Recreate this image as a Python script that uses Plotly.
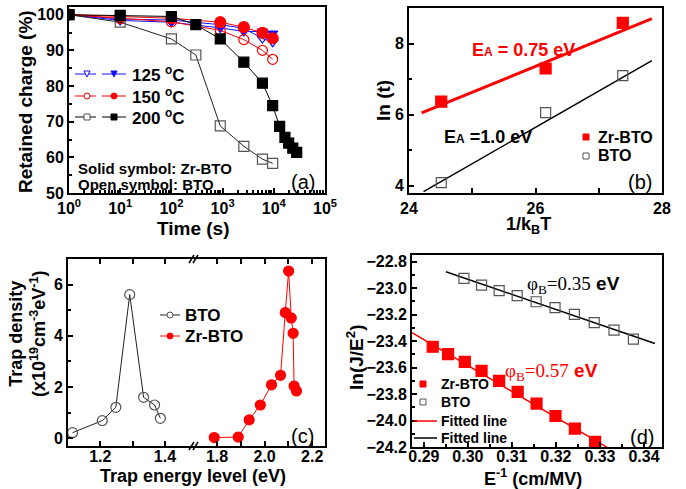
import plotly.graph_objects as go

W, H = 686, 489
def X(px): return px / W
def Y(py): return 1 - py / H

FONT = "Liberation Sans, Arial, sans-serif"
SERIF = "Liberation Serif, Times New Roman, serif"
RED = "#ff0000"
BLUE = "#1010ff"
GRAY = "#555555"

# ---------------- Panel (a): retention ----------------
t_125 = [1, 10, 100, 900, 2600, 6000, 9500]
bto_125 = [100, 98.8, 98.5, 97.2, 96.2, 93.3, 92.3]
zr_125 = [100, 98.4, 97.9, 96.3, 95.3, 95.3, 94.8]
t_150 = [1, 10, 100, 900, 2600, 6000, 9500]
bto_150 = [100, 98.9, 98.0, 95.6, 93.0, 90.0, 87.5]
zr_150 = [100, 99.5, 99.0, 97.9, 96.5, 94.9, 93.4]
t_bto_200 = [1, 10, 100, 300, 900, 2600, 6000, 9500]
bto_200 = [100, 97.9, 93.2, 88.7, 68.8, 63.1, 59.5, 58.3]
t_zr_200 = [1, 10, 100, 300, 900, 2600, 6000, 9500, 13000, 16500, 19500, 23500, 28000]
zr_200 = [100, 99.8, 99.5, 97.2, 93.2, 86.7, 80.8, 74.5, 68.7, 65.6, 64.0, 62.6, 61.4]

# ---------------- Panel (b): Arrhenius ----------------
inv_kT = [24.51, 26.16, 27.38]
ln_t_zr = [6.37, 7.30, 8.58]
ln_t_bto = [4.09, 6.06, 7.10]
fit_zr_x = [24.2, 27.84]
fit_zr_y = [6.05, 8.70]
fit_bto_x = [24.23, 27.84]
fit_bto_y = [3.84, 7.52]

# ---------------- Panel (c): trap density ----------------
e_bto = [1.114, 1.206, 1.248, 1.291, 1.334, 1.368, 1.386]
n_bto = [0.22, 0.69, 1.21, 5.61, 1.60, 1.30, 0.78]
e_zr = [1.788, 1.889, 1.935, 1.982, 2.029, 2.067, 2.087, 2.101, 2.112, 2.120, 2.124, 2.134]
n_zr = [0.03, 0.05, 0.72, 1.30, 2.09, 2.46, 4.91, 6.53, 4.70, 4.10, 2.04, 1.85]

# ---------------- Panel (d): F-N plot ----------------
einv_bto = [0.2991, 0.3031, 0.3071, 0.3112, 0.3155, 0.3198, 0.3242, 0.3287, 0.3332, 0.3376]
lnje_bto = [-22.926, -22.977, -23.019, -23.057, -23.103, -23.148, -23.199, -23.260, -23.317, -23.385]
einv_zr = [0.2920, 0.2955, 0.2993, 0.3031, 0.3071, 0.3113, 0.3156, 0.3199, 0.3243, 0.3289]
lnje_zr = [-23.443, -23.499, -23.557, -23.625, -23.701, -23.784, -23.872, -23.966, -24.061, -24.162]
fitd_bto_x = [0.2950, 0.3425]
fitd_bto_y = [-22.876, -23.418]
fitd_zr_x = [0.2873, 0.3322]
fitd_zr_y = [-23.337, -24.214]

fig = go.Figure()

def sc(x, y, xa, ya, color, symbol, filled, size=10, lw=1, mode="lines+markers", lcolor=None):
    fig.add_trace(go.Scatter(
        x=x, y=y, xaxis=xa, yaxis=ya, mode=mode, showlegend=False,
        line=dict(color=lcolor or color, width=lw),
        marker=dict(symbol=symbol if filled else symbol + "-open", size=size,
                    color=color, line=dict(color=color, width=1.2)),
        cliponaxis=True))

# panel a
sc(t_125, bto_125, "x", "y", BLUE, "triangle-down", False, 9)
sc(t_125, zr_125, "x", "y", BLUE, "triangle-down", True, 9)
sc(t_150, bto_150, "x", "y", RED, "circle", False, 10)
sc(t_150, zr_150, "x", "y", RED, "circle", True, 11)
sc(t_bto_200, bto_200, "x", "y", GRAY, "square", False, 10, lcolor="#222222")
sc(t_zr_200, zr_200, "x", "y", "black", "square", True, 10)

# panel b
sc(fit_zr_x, fit_zr_y, "x2", "y2", RED, "square", True, mode="lines", lw=3)
sc(fit_bto_x, fit_bto_y, "x2", "y2", "black", "square", True, mode="lines", lw=1.5)
sc(inv_kT, ln_t_zr, "x2", "y2", RED, "square", True, 11, mode="markers")
sc(inv_kT, ln_t_bto, "x2", "y2", GRAY, "square", False, 10, mode="markers")

# panel c
sc(e_bto, n_bto, "x3", "y3", GRAY, "circle", False, 10, lcolor="#222222")
sc(e_zr, n_zr, "x4", "y4", RED, "circle", True, 10)

# panel d
sc(fitd_bto_x, fitd_bto_y, "x5", "y5", "black", "square", True, mode="lines", lw=1.5)
sc(fitd_zr_x, fitd_zr_y, "x5", "y5", RED, "square", True, mode="lines", lw=1.5)
sc(einv_bto, lnje_bto, "x5", "y5", GRAY, "square", False, 10, mode="markers")
sc(einv_zr, lnje_zr, "x5", "y5", RED, "square", True, 11, mode="markers")

TF = dict(family=FONT, size=16, color="black", weight="bold")

def axis(**kw):
    d = dict(showline=True, linecolor="black", linewidth=1.8, mirror=True,
             ticks="inside", ticklen=5, tickwidth=1.5, tickcolor="black",
             tickfont=TF, showgrid=False, zeroline=False)
    d.update(kw)
    return d

minor_log = [m * 10 ** k for k in range(5) for m in range(2, 10)]

fig.update_layout(
    width=W, height=H, margin=dict(l=0, r=0, t=0, b=0),
    paper_bgcolor="white", plot_bgcolor="white", template="none",
    xaxis=axis(domain=[X(69), X(325)], anchor="y", type="log", range=[0, 5],
               tickmode="array", tickvals=[1, 10, 100, 1000, 10000, 100000],
               ticktext=["10<sup>0</sup>", "10<sup>1</sup>", "10<sup>2</sup>",
                         "10<sup>3</sup>", "10<sup>4</sup>", "10<sup>5</sup>"],
               minor=dict(tickmode="array", tickvals=minor_log, ticks="inside",
                          ticklen=3, tickcolor="black", showgrid=False)),
    yaxis=axis(domain=[Y(193), Y(6.5)], anchor="x", range=[50, 102.3],
               tickvals=[50, 60, 70, 80, 90, 100],
               minor=dict(dtick=5, ticks="inside", ticklen=3, tickcolor="black", showgrid=False)),
    xaxis2=axis(domain=[X(409), X(662)], anchor="y2", range=[24, 28], dtick=2,
                minor=dict(dtick=1, ticks="inside", ticklen=5, tickcolor="black", showgrid=False)),
    yaxis2=axis(domain=[Y(193), Y(8)], anchor="x2", range=[3.8, 9.0], dtick=2,
                minor=dict(dtick=1, ticks="inside", ticklen=3, tickcolor="black", showgrid=False)),
    xaxis3=axis(domain=[X(68), X(194)], anchor="y3", range=[1.1, 1.49],
                tickvals=[1.2, 1.4], ticktext=["1.2", "1.4"], mirror="allticks",
                ticklabelstandoff=-5,
                minor=dict(dtick=0.1, ticks="inside", ticklen=5, tickcolor="black", showgrid=False)),
    yaxis3=axis(domain=[Y(446), Y(259)], anchor="x3", range=[-0.3, 7.0], dtick=2,
                mirror=False,
                minor=dict(dtick=1, ticks="inside", ticklen=3, tickcolor="black", showgrid=False)),
    xaxis4=axis(domain=[X(194), X(325)], anchor="y4", range=[1.703, 2.254],
                tickvals=[1.8, 2.0, 2.2], ticktext=["1.8", "2.0", "2.2"], mirror="allticks",
                ticklabelstandoff=-5,
                minor=dict(dtick=0.1, ticks="inside", ticklen=5, tickcolor="black", showgrid=False)),
    yaxis4=axis(domain=[Y(446), Y(259)], anchor="x4", range=[-0.3, 7.0], side="right",
                showticklabels=False, ticks="", mirror=False),
    xaxis5=axis(domain=[X(412), X(662)], anchor="y5", range=[0.2873, 0.3441],
                dtick=0.01, tickformat=".2f", ticklabelstandoff=-6,
                minor=dict(dtick=0.005, ticks="inside", ticklen=3, tickcolor="black", showgrid=False)),
    yaxis5=axis(domain=[Y(447), Y(255)], anchor="x5", range=[-24.2, -22.75],
                dtick=0.2, tickformat=".1f",
                minor=dict(dtick=0.1, ticks="inside", ticklen=3, tickcolor="black", showgrid=False)),
)

ann = []
def text(px, py, s, size=16, color="black", bold=True, xanchor="left", angle=0, family=FONT):
    ann.append(dict(x=X(px), y=Y(py), xref="paper", yref="paper", text=s, showarrow=False,
                    xanchor=xanchor, yanchor="middle", textangle=angle,
                    font=dict(family=family, size=size, color=color,
                              weight="bold" if bold else "normal")))

# axis titles
text(25, 102, "Retained charge (%)", 19, xanchor="center", angle=-90)
text(193, 228, "Time (s)", 19, xanchor="center")
text(383, 101, "ln (t)", 19, xanchor="center", angle=-90)
text(528, 225, "1/k<sub>B</sub>T", 18, xanchor="center")
text(27, 334, "Trap density<br>(x10<sup>19</sup>cm<sup>-3</sup>eV<sup>-1</sup>)", 18, xanchor="center", angle=-90)
text(193, 476, "Trap energy level (eV)", 18, xanchor="center")
text(355, 358, "ln(J/E<sup>2</sup>)", 19, xanchor="center", angle=-90)
text(533, 477, "E<sup>-1</sup> (cm/MV)", 18, xanchor="center")

# panel labels
text(303, 182, "(a)", 20, bold=False, xanchor="center")
text(640, 182, "(b)", 20, bold=False, xanchor="center")
text(302, 436, "(c)", 20, bold=False, xanchor="center")
text(642, 437, "(d)", 20, bold=False, xanchor="center")

# panel a legend / notes
text(130, 74, "125 <sup>o</sup>C", 17)
text(130, 96, "150 <sup>o</sup>C", 17)
text(130, 117, "200 <sup>o</sup>C", 17)
text(76, 168, "Solid symbol: Zr-BTO", 15)
text(76, 184, "Open symbol: BTO", 15)

# panel b
text(470, 50, 'E<span style="font-size:12px">A</span> = 0.75 eV', 18, color=RED)
text(442, 137, 'E<span style="font-size:12px">A</span> =1.0 eV', 18)
text(596, 137, "Zr-BTO", 16)
text(596, 156, "BTO", 16)

# panel c
text(183, 315, "BTO", 17)
text(183, 336, "Zr-BTO", 17)

# panel d
text(525, 285, '<span style="font-family:%s;font-weight:normal">&#966;<sub>B</sub>=0.35</span> eV' % SERIF, 19)
text(503, 372, '<span style="font-family:%s;font-weight:normal">&#966;<sub>B</sub>=0.57</span> eV' % SERIF, 19, color=RED)
text(439, 384, "Zr-BTO", 14)
text(439, 402, "BTO", 14)
text(439, 421, "Fitted line", 14)
text(439, 438, "Fitted line", 14)

fig.update_layout(annotations=ann)

shapes = []
def line(x0, y0, x1, y1, color="black", w=1):
    shapes.append(dict(type="line", xref="paper", yref="paper", x0=X(x0), y0=Y(y0),
                       x1=X(x1), y1=Y(y1), line=dict(color=color, width=w)))
def rect(cx, cy, s, color, filled):
    shapes.append(dict(type="rect", xref="paper", yref="paper", x0=X(cx - s / 2), x1=X(cx + s / 2),
                       y0=Y(cy + s / 2), y1=Y(cy - s / 2), line=dict(color=color, width=1),
                       fillcolor=color if filled else "white"))
def circ(cx, cy, s, color, filled):
    shapes.append(dict(type="circle", xref="paper", yref="paper", x0=X(cx - s / 2), x1=X(cx + s / 2),
                       y0=Y(cy + s / 2), y1=Y(cy - s / 2), line=dict(color=color, width=1),
                       fillcolor=color if filled else "white"))
def tri(cx, cy, s, color, filled):
    p = "M %f %f L %f %f L %f %f Z" % (X(cx - s / 2), Y(cy - s / 2), X(cx + s / 2), Y(cy - s / 2), X(cx), Y(cy + s / 2))
    shapes.append(dict(type="path", xref="paper", yref="paper", path=p,
                       line=dict(color=color, width=1), fillcolor=color if filled else "white"))

# panel a legend samples
for cy, col, mk in [(74, BLUE, tri), (96, RED, circ), (117, "black", rect)]:
    line(75, cy, 96, cy, col)
    line(102, cy, 126, cy, col)
    mk(87, cy, 6, GRAY if col == "black" else col, False)
    mk(114, cy, 6, col, True)

# panel b legend
rect(586, 137, 6, RED, True)
rect(586, 156, 6, GRAY, False)

# panel c legend
line(160, 315, 180, 315, "#222222")
circ(170, 315, 6, GRAY, False)
line(160, 336, 180, 336, RED)
circ(170, 336, 6, RED, True)

# panel c axis break marks
for yb in (259, 446):
    line(189, yb + 4, 194, yb - 4, "black", 1.5)
    line(193, yb + 4, 198, yb - 4, "black", 1.5)

# panel d legend
rect(423, 384, 6, RED, True)
rect(423, 402, 6, GRAY, False)
line(414, 421, 437, 421, RED, 1.5)
line(414, 438, 437, 438, "black", 1.5)

fig.update_layout(shapes=shapes)
fig.write_html("out.html")
